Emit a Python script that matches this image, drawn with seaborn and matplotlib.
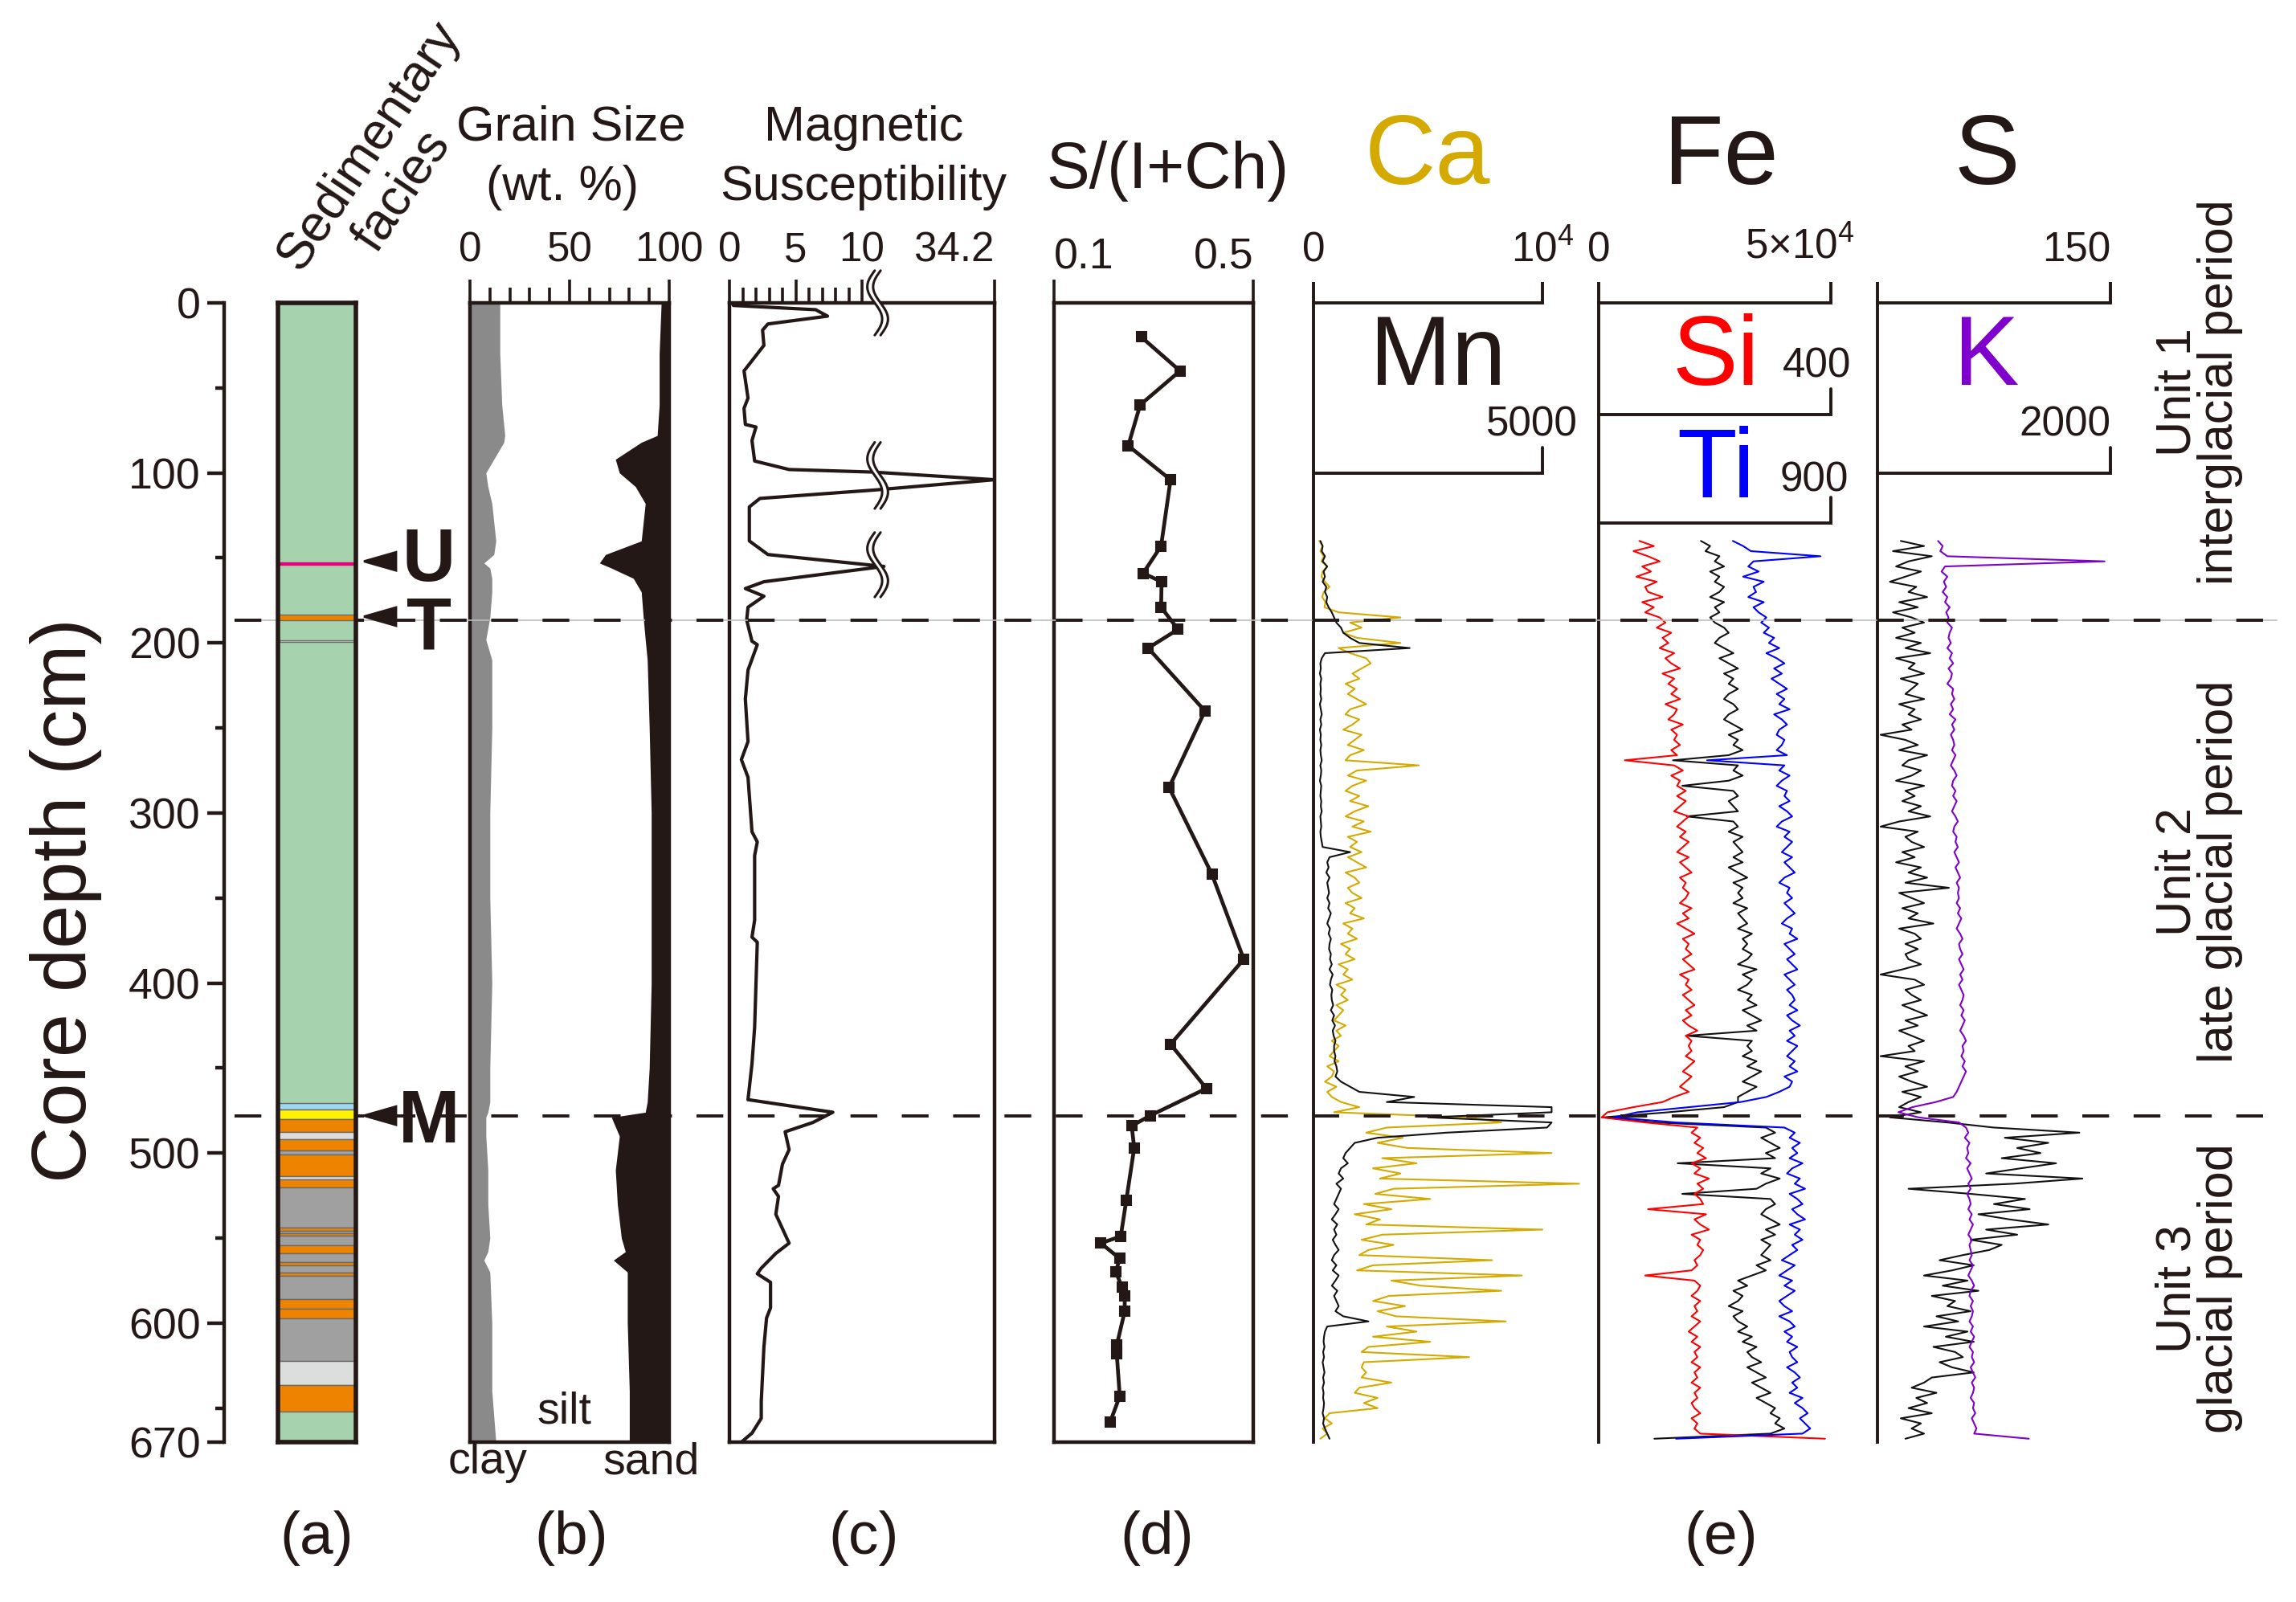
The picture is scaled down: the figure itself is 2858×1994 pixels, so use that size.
import numpy as np
import pandas as pd
import matplotlib
matplotlib.use("Agg")
import matplotlib.pyplot as plt
import matplotlib.transforms as mtransforms
from matplotlib.lines import Line2D
from matplotlib.ticker import FixedLocator
from matplotlib import font_manager
import seaborn as sns

# ============================ DATA ============================
DEPTH_MAX = 670
depth_major = [0, 100, 200, 300, 400, 500, 600, 670]
depth_minor = [50, 150, 250, 350, 450, 550, 650]

# (a) sedimentary facies (cm)
facies_top = [152.6, 183.4, 198.6, 470.5, 474.4, 480.2, 487.8, 491.8, 498.4, 501.0, 513.4, 515.4,
              520.0, 543.8, 545.6, 547.0, 548.8, 554.2, 558.8, 564.2, 566.2, 570.2, 572.2, 586.0,
              591.8, 597.4, 622.2, 636.4, 652.0]
facies_bot = [153.8, 186.6, 199.6, 474.4, 480.2, 487.8, 491.8, 498.4, 501.0, 513.4, 515.4, 520.0,
              543.8, 545.6, 547.0, 548.8, 554.2, 558.8, 564.2, 566.2, 570.2, 572.2, 586.0, 591.8,
              597.4, 622.2, 636.4, 652.0, 670.0]
facies_kind = ["pink", "orange", "lgrey", "lblue", "yellow", "orange", "lgrey", "orange", "grey",
               "orange", "lgrey", "orange", "grey", "orange", "grey", "orange", "grey", "orange",
               "grey", "orange", "grey", "orange", "grey", "orange", "orange", "grey", "lgrey",
               "orange", "green"]
facies_colors = {"green": "#A6D3AE", "orange": "#EE8300", "grey": "#A0A0A0", "lgrey": "#DCDDDD",
                 "yellow": "#FFF100", "lblue": "#9FD6F2", "pink": "#E5007F"}

# (b) grain size (wt. %)
grain_depth = [0, 30, 60, 78, 82, 92, 100, 108, 118, 140, 148, 153, 156, 162, 170, 185, 198, 210,
               250, 300, 350, 400, 450, 470, 476, 479, 490, 510, 530, 550, 558, 563, 570, 600, 640, 670]
clay_pct = [15, 15, 16, 17.5, 17, 12, 8, 9, 11, 13, 12, 7, 10, 11, 11, 10, 8, 11,
            11, 10, 10, 11, 10, 10, 9, 8, 8, 9, 9, 10, 9, 7, 10, 11, 11, 13]
sand_pct = [4, 5, 5, 6, 14, 27, 25, 17, 12, 14, 32, 35, 29, 18, 14, 13, 12, 11,
            10, 9, 9, 9, 10, 11, 12, 29, 25, 27, 26, 24, 22, 28, 21, 21, 20, 20]

# (c) magnetic susceptibility
ms_depth = [0, 1.5, 4, 7.8, 12.4, 16, 25, 40, 56, 62, 71.5, 73, 81, 93, 98, 99.5, 104, 110, 115,
            120, 140, 148, 155, 164, 168, 172.5, 179, 186.5, 199, 201, 216, 233, 258, 268.6, 279,
            311, 317, 325, 363, 373, 376, 426, 447.5, 468.6, 476, 482, 487.5, 498, 506.5, 519, 521,
            525.5, 536, 553, 559, 567.7, 571, 576, 591, 597, 614, 646, 656, 664.7, 670]
ms_value = [0.2, 0.3, 6.5, 7.4, 2.9, 2.5, 2.6, 1.1, 1.4, 1.1, 1.2, 2.0, 1.7, 1.9, 4.5, 12.0, 34.2,
            12.5, 2.3, 1.5, 1.5, 2.9, 14.0, 2.6, 1.2, 2.6, 1.4, 1.3, 1.7, 2.1, 1.4, 1.2, 1.4, 0.9,
            1.4, 1.7, 2.1, 1.9, 1.9, 1.7, 2.1, 1.9, 1.7, 1.4, 7.8, 6.3, 4.2, 4.5, 4.0, 3.7, 3.3,
            3.7, 3.5, 4.5, 3.5, 2.4, 2.1, 3.1, 3.1, 2.8, 2.6, 2.4, 2.4, 1.7, 0.9]
MS_BREAK, MS_MAX = 10.0, 34.2

# (d) S/(I+Ch)
sic_depth = [20, 40, 60, 84, 104, 143, 159, 164, 179, 192, 203, 240, 285, 336, 386, 436, 462,
             478, 484, 497, 528, 549, 553, 562, 570, 579, 584, 593, 613, 618, 643, 658]
sic_value = [0.275, 0.353, 0.273, 0.249, 0.334, 0.315, 0.279, 0.316, 0.315, 0.349, 0.289, 0.403,
             0.331, 0.417, 0.481, 0.334, 0.406, 0.293, 0.256, 0.261, 0.245, 0.234, 0.194, 0.232,
             0.224, 0.237, 0.242, 0.242, 0.226, 0.226, 0.232, 0.213]

# (e) XRF core scanning, 3-cm sampling from 140 to 668 cm
XRF_TOP, XRF_BOT = 140, 668
ca = [250, 400, 300, 450, 350, 600, 400, 350, 500, 700,
      450, 380, 520, 480, 1100, 3800, 1600, 2100, 1300, 1900,
      3800, 1100, 1600, 2300, 2500, 2100, 1700, 2000, 1400, 1800,
      1500, 1900, 2300, 1600, 1400, 2000, 1700, 1300, 2100, 1800,
      1500, 2200, 1600, 1400, 4600, 1900, 1500, 2300, 1700, 1400,
      2000, 1600, 2400, 1800, 1400, 2200, 1700, 2500, 1500, 1900,
      1600, 2100, 1500, 1900, 2300, 1400, 1800, 2000, 1500, 1700,
      2100, 1400, 1800, 1600, 2200, 1300, 1700, 1500, 1900, 1200,
      1600, 1400, 1800, 1100, 1500, 1300, 1700, 1000, 1400, 1200,
      1500, 1000, 1300, 1100, 900, 1400, 1000, 1200, 800, 1100,
      900, 700, 1100, 600, 900, 800, 500, 1000, 600, 800,
      1200, 2000, 900, 6800, 8200, 3200, 2300, 3900, 2800, 4100,
      10400, 3000, 4500, 2600, 3800, 2900, 11600, 3500, 2700, 5100,
      2200, 3400, 1800, 2900, 2300, 10000, 3000, 2100, 3500, 2400,
      2000, 7800, 2600, 1900, 9100, 3400, 4700, 8200, 3300, 2600,
      4000, 2800, 3600, 8400, 3200, 4500, 2600, 5100, 2400, 2100,
      6800, 2200, 2100, 2300, 2100, 3400, 2000, 1800, 2800, 2200,
      2800, 700, 500, 800, 400, 600, 300]
mn = [150, 200, 180, 250, 200, 300, 220, 250, 200, 280,
      250, 300, 280, 330, 400, 450, 500, 600, 650, 800,
      1000, 2100, 250, 180, 150, 160, 140, 170, 150, 160,
      150, 170, 140, 160, 180, 150, 170, 140, 160, 150,
      170, 150, 160, 180, 150, 170, 160, 140, 170, 160,
      150, 170, 160, 180, 150, 160, 170, 150, 160, 180,
      200, 800, 350, 300, 330, 280, 350, 300, 320, 340,
      300, 350, 320, 380, 340, 300, 360, 330, 380, 350,
      340, 380, 360, 400, 350, 420, 380, 360, 410, 390,
      400, 430, 380, 450, 410, 470, 420, 440, 480, 450,
      450, 480, 460, 500, 520, 480, 600, 800, 1000, 2200,
      1600, 5200, 5200, 2500, 5200, 5100, 2900, 1400, 900, 800,
      700, 650, 750, 600, 550, 650, 500, 600, 550, 500,
      450, 550, 480, 400, 520, 450, 500, 420, 480, 550,
      450, 400, 500, 420, 550, 480, 400, 520, 450, 500,
      550, 480, 650, 1200, 300, 250, 230, 220, 240, 210,
      230, 200, 220, 240, 210, 230, 200, 220, 210, 230,
      220, 200, 230, 210, 250, 300, 350]
fe_k = [22, 24, 23, 26, 25, 27, 24, 26, 25, 27,
        26, 24, 27, 25, 26, 24, 25, 27, 28, 26,
        25, 27, 29, 26, 28, 30, 27, 29, 28, 30,
        28, 27, 29, 30, 28, 27, 29, 31, 28, 30,
        29, 31, 28, 16, 30, 29, 31, 28, 18, 29,
        30, 28, 29, 30, 19, 29, 30, 28, 31, 29,
        30, 31, 29, 31, 28, 30, 32, 29, 31, 30,
        31, 29, 32, 30, 31, 32, 30, 33, 31, 32,
        31, 33, 32, 30, 34, 31, 33, 32, 30, 33,
        32, 34, 31, 33, 35, 32, 34, 19, 33, 32,
        33, 31, 34, 32, 35, 33, 31, 34, 32, 30,
        30, 27, 15, 1, 12, 36, 38, 35, 37, 39,
        36, 38, 17, 37, 35, 39, 36, 34, 18, 37,
        38, 36, 35, 37, 39, 36, 38, 35, 37, 36,
        35, 37, 34, 36, 33, 30, 32, 29, 31, 30,
        28, 31, 29, 30, 32, 30, 33, 31, 34, 32,
        33, 35, 32, 34, 36, 33, 35, 37, 34, 36,
        38, 37, 39, 38, 40, 37, 12]
si = [70, 95, 60, 85, 105, 75, 90, 65, 100, 80,
      85, 110, 75, 95, 80, 105, 115, 100, 125, 110,
      120, 105, 130, 115, 125, 140, 110, 130, 120, 135,
      125, 140, 115, 135, 130, 120, 145, 125, 135, 130,
      140, 125, 135, 45, 130, 145, 125, 140, 135, 150,
      135, 150, 140, 130, 155, 145, 135, 150, 140, 155,
      145, 135, 155, 140, 150, 160, 140, 150, 145, 155,
      150, 140, 160, 145, 155, 135, 150, 165, 145, 155,
      150, 160, 145, 155, 165, 140, 155, 150, 160, 145,
      155, 165, 150, 160, 145, 155, 170, 150, 160, 155,
      160, 150, 165, 155, 145, 160, 150, 140, 155, 130,
      110, 60, 15, 5, 80, 170, 160, 175, 165, 180,
      170, 185, 160, 175, 165, 190, 170, 180, 165, 175,
      180, 85, 185, 165, 175, 190, 160, 175, 170, 180,
      175, 165, 170, 160, 80, 165, 175, 170, 160, 175,
      165, 170, 160, 175, 165, 155, 170, 160, 175, 165,
      170, 160, 175, 165, 170, 160, 175, 165, 170, 160,
      165, 175, 160, 170, 165, 175, 390]
ti = [520, 560, 590, 860, 600, 580, 620, 560, 640, 600,
      610, 580, 640, 600, 620, 650, 630, 660, 640, 680,
      660, 700, 650, 690, 720, 680, 710, 670, 700, 730,
      690, 720, 700, 740, 680, 710, 730, 700, 690, 720,
      710, 690, 730, 420, 720, 700, 740, 710, 690, 730,
      720, 740, 700, 730, 750, 710, 690, 740, 720, 750,
      730, 710, 750, 720, 740, 760, 720, 700, 740, 730,
      750, 720, 740, 760, 730, 710, 750, 740, 770, 720,
      740, 760, 730, 750, 770, 720, 740, 760, 730, 750,
      760, 740, 770, 730, 750, 780, 740, 760, 730, 770,
      750, 730, 760, 740, 770, 720, 750, 740, 700, 650,
      550, 350, 150, 60, 300, 720, 760, 740, 780, 750,
      770, 740, 790, 750, 730, 780, 760, 800, 740, 770,
      790, 750, 770, 800, 740, 780, 760, 790, 750, 770,
      740, 710, 760, 730, 700, 750, 720, 760, 730, 700,
      720, 750, 700, 740, 760, 720, 750, 730, 770, 740,
      750, 770, 730, 760, 780, 750, 770, 740, 790, 760,
      790, 810, 780, 800, 820, 790, 300]
s_el = [15, 30, 10, 35, 20, 12, 28, 18, 8, 25,
        20, 32, 14, 26, 10, 22, 30, 16, 24, 12,
        28, 18, 34, 12, 24, 20, 30, 15, 26, 22,
        18, 30, 14, 24, 20, 28, 16, 22, 2, 18,
        26, 14, 32, 20, 16, 28, 22, 12, 30, 18,
        24, 16, 28, 20, 34, 14, 2, 26, 18, 22,
        30, 16, 24, 12, 28, 20, 32, 18, 46, 14,
        22, 30, 16, 26, 20, 36, 14, 24, 28, 18,
        26, 18, 20, 28, 16, 2, 24, 30, 18, 22,
        28, 16, 24, 32, 18, 26, 14, 22, 30, 20,
        24, 2, 30, 18, 26, 14, 22, 32, 16, 28,
        20, 14, 28, 8, 45, 75, 130, 82, 110, 90,
        105, 80, 115, 92, 70, 132, 88, 20, 60, 95,
        75, 98, 65, 85, 110, 70, 90, 60, 80, 72,
        55, 40, 62, 48, 30, 58, 42, 65, 35, 50,
        45, 60, 38, 52, 30, 58, 44, 62, 36, 50,
        55, 40, 48, 62, 35, 30, 22, 38, 25, 32,
        20, 35, 15, 28, 22, 30, 18]
k_el = [520, 560, 540, 600, 1950, 580, 550, 600, 570, 590,
        560, 600, 580, 620, 590, 610, 600, 640, 620, 610,
        630, 600, 640, 620, 650, 610, 640, 630, 600, 650,
        640, 660, 630, 650, 620, 670, 640, 660, 630, 650,
        660, 640, 670, 650, 630, 660, 680, 650, 640, 670,
        650, 680, 660, 640, 670, 690, 660, 650, 680, 670,
        690, 660, 680, 700, 670, 690, 710, 680, 700, 690,
        700, 680, 710, 690, 720, 700, 680, 710, 730, 700,
        710, 730, 700, 720, 740, 710, 730, 700, 720, 740,
        730, 710, 740, 720, 750, 730, 710, 740, 760, 730,
        740, 720, 750, 730, 760, 740, 720, 700, 680, 650,
        500, 300, 180, 350, 700, 760, 780, 750, 790, 770,
        780, 760, 800, 770, 790, 810, 780, 800, 770, 790,
        800, 780, 810, 790, 820, 800, 780, 810, 790, 800,
        810, 790, 820, 800, 780, 810, 830, 800, 790, 820,
        800, 820, 810, 790, 820, 800, 830, 810, 790, 820,
        810, 830, 800, 820, 840, 810, 830, 820, 800, 830,
        820, 840, 810, 830, 850, 830, 1300]

CA_MAX, MN_MAX = 1e4, 5000
FE_MAX, SI_MAX, TI_MAX = 50, 400, 900   # Fe in 10^3 counts
S_MAX, K_MAX = 150, 2000
MN_AXIS_DEPTH, SI_AXIS_DEPTH, TI_AXIS_DEPTH, K_AXIS_DEPTH = 100, 65.5, 129.5, 100

unit_bounds = [186.5, 478]
unit_names = ["Unit 1", "Unit 2", "Unit 3"]
unit_periods = ["interglacial period", "late glacial period", "glacial period"]
tephra_names = ["U", "T", "M"]
tephra_depth = [152, 184.5, 478]
tephra_label_shift = [-4.5, 3.5, 0]   # letter offset from its arrow (cm)

# ============================ STYLE ============================
sns.set_theme(style="white")
DARK = "#231815"
names = {f.name for f in font_manager.fontManager.ttflist}
NARROW = "Liberation Sans Narrow" if "Liberation Sans Narrow" in names else "Liberation Sans"
NSCALE = 1.0 if NARROW == "Liberation Sans Narrow" else 0.92
plt.rcParams.update({
    "font.family": ["Liberation Sans", "DejaVu Sans"],
    "text.color": DARK, "axes.edgecolor": DARK, "xtick.color": DARK, "ytick.color": DARK,
    "axes.labelcolor": DARK, "axes.linewidth": 1.5, "lines.scale_dashes": False,
    "mathtext.default": "regular",
})

W, H, DPI = 2858, 1994, 200
fig = plt.figure(figsize=(W / DPI, H / DPI), dpi=DPI, facecolor="white")
Y0, Y1 = 377, 1795


def add_panel(x0, x1):
    ax = fig.add_axes([x0 / W, 1 - Y1 / H, (x1 - x0) / W, (Y1 - Y0) / H])
    ax.set_ylim(DEPTH_MAX, 0)
    ax.set_facecolor("none")
    return ax


def ftext(x, y, s, size=None, **kw):
    kw.setdefault("ha", "center")
    kw.setdefault("va", "center")
    if size is not None:
        kw["fontsize"] = size
    return fig.text(x / W, 1 - y / H, s, **kw)


def narrow(size):
    return dict(family=[NARROW, "DejaVu Sans"], fontsize=size * NSCALE)


def trace(ax, x, y, color, lw, **kw):
    df = pd.DataFrame({"v": x, "d": y})
    sns.lineplot(data=df, x="v", y="d", ax=ax, color=color, lw=lw, sort=False,
                 estimator=None, orient="y", **kw)
    ax.set_xlabel("")
    ax.set_ylabel("")
    return ax.lines[-1]


def top_ticks(ax, major, labels, minor=None, lw=1.3, size=20):
    ax.xaxis.set_ticks_position("top")
    ax.set_xticks(major)
    ax.set_xticklabels(labels, **narrow(size))
    if minor is not None:
        ax.xaxis.set_minor_locator(FixedLocator(minor))
    ax.tick_params(axis="x", which="major", direction="out", length=10.5, width=lw, pad=4,
                   top=True, bottom=False, labeltop=True, labelbottom=False)
    ax.tick_params(axis="x", which="minor", direction="out", length=7, width=lw,
                   top=True, bottom=False)
    ax.set_yticks([])


# ---------------- depth axis ----------------
ax_y = add_panel(279, 281)
for k in ["top", "right", "bottom"]:
    ax_y.spines[k].set_visible(False)
ax_y.spines["left"].set_linewidth(1.6)
ax_y.set_xticks([])
ax_y.set_yticks(depth_major)
ax_y.set_yticklabels([str(v) for v in depth_major], **narrow(21))
ax_y.yaxis.set_minor_locator(FixedLocator(depth_minor))
ax_y.tick_params(axis="y", which="major", length=7.5, width=1.6, pad=3, left=True)
ax_y.tick_params(axis="y", which="minor", length=4, width=1.6, left=True)
ftext(82, 1121, "Core depth (cm)", 35, rotation=90)

# ---------------- (a) facies ----------------
ax_a = add_panel(346, 443)
ax_a.barh([DEPTH_MAX / 2], [1], height=[DEPTH_MAX], left=0, color=facies_colors["green"], lw=0)
ftop = np.array(facies_top)
fbot = np.array(facies_bot)
edge_cols = [facies_colors[k] if k == "pink" else "#6a6a6a" for k in facies_kind]
ax_a.barh((ftop + fbot) / 2, 1, height=fbot - ftop, left=0,
          color=[facies_colors[k] for k in facies_kind], edgecolor=edge_cols, linewidth=0.5)
ax_a.set_xlim(0, 1)
ax_a.set_xticks([])
ax_a.set_yticks([])
for sp in ax_a.spines.values():
    sp.set_linewidth(2.0)
    sp.set_visible(True)
ax_a.set_zorder(3)
ftext(459, 182, "Sedimentary", 23, rotation=56)
ftext(500, 238, "facies", 23, rotation=56)

# tephra markers
trans_a = mtransforms.blended_transform_factory(fig.transFigure, ax_a.transData)
for name, d, sh in zip(tephra_names, tephra_depth, tephra_label_shift):
    ax_a.fill([453 / W, 493 / W, 493 / W], [d, d - 5.4, d + 5.4], transform=trans_a,
              color=DARK, clip_on=False, zorder=6)
    ax_a.text(534 / W, d + sh, name, transform=trans_a, fontsize=33, fontweight="bold",
              ha="center", va="center_baseline", clip_on=False, zorder=6)

# ---------------- (b) grain size ----------------
ax_b = add_panel(585, 833)
gd = np.array(grain_depth)
ax_b.fill_betweenx(gd, 0, np.array(clay_pct), color="#8a8a8a", lw=0)
ax_b.fill_betweenx(gd, 100 - np.array(sand_pct), 100, color=DARK, lw=0)
ax_b.set_xlim(0, 100)
top_ticks(ax_b, [0, 50, 100], ["0", "50", "100"], minor=[10, 20, 30, 40, 60, 70, 80, 90])
for sp in ax_b.spines.values():
    sp.set_linewidth(1.6)
ftext(711, 159, "Grain Size", 22)
ftext(700, 233, "(wt. %)", 22)
ftext(702, 1757, "silt", 20)
ftext(607, 1820, "clay", 20)
ftext(811, 1820, "sand", 20)


# ---------------- (c) magnetic susceptibility ----------------
def ms_fwd(v):
    v = np.asarray(v, dtype=float)
    return np.where(v <= MS_BREAK, v, MS_BREAK + (v - MS_BREAK) * MS_BREAK / (MS_MAX - MS_BREAK))


def ms_inv(u):
    u = np.asarray(u, dtype=float)
    return np.where(u <= MS_BREAK, u, MS_BREAK + (u - MS_BREAK) * (MS_MAX - MS_BREAK) / MS_BREAK)


ax_c = add_panel(908, 1238)
ax_c.set_xscale("function", functions=(ms_fwd, ms_inv))
ax_c.set_xlim(0, MS_MAX)
trace(ax_c, ms_value, ms_depth, DARK, 1.5)
top_ticks(ax_c, [0, 5, 10, MS_MAX], ["0", "5", "10", "34.2"], minor=[1, 2, 3, 4, 6, 7, 8, 9])
labs = ax_c.get_xticklabels()
labs[-1].set_ha("right")
for sp in ax_c.spines.values():
    sp.set_linewidth(1.6)
ftext(1075, 159, "Magnetic", 22)
ftext(1075, 233, "Susceptibility", 22)

# axis-break symbols (decoration)
yax = ax_c.get_yaxis_transform()
for d0, d1 in [(-19, 19), (82, 121), (135, 173)]:
    t = np.linspace(0, 1, 60)
    dd = d0 + (d1 - d0) * t
    xa = 0.548 - 0.028 * np.sin(2 * np.pi * t)
    xb = xa + 0.022
    ax_c.fill_betweenx(dd, xa, xb, color="white", transform=yax, zorder=4, clip_on=False, lw=0)
    ax_c.plot(xa, dd, color=DARK, lw=1.1, transform=yax, zorder=5, clip_on=False)
    ax_c.plot(xb, dd, color=DARK, lw=1.1, transform=yax, zorder=5, clip_on=False)

# ---------------- (d) S/(I+Ch) ----------------
ax_d = add_panel(1312, 1560)
ax_d.set_xlim(0.1, 0.5)
trace(ax_d, sic_value, sic_depth, DARK, 1.7, marker="s", markersize=4.2,
      markeredgecolor=DARK, markerfacecolor=DARK)
top_ticks(ax_d, [0.1, 0.5], ["0.1", "0.5"], size=21)
labs = ax_d.get_xticklabels()
labs[0].set_ha("left")
labs[1].set_ha("right")
ax_d.tick_params(axis="x", pad=1)
for sp in ax_d.spines.values():
    sp.set_linewidth(1.6)
ftext(1453, 213, "S/(I+Ch)", 29)

# ---------------- (e) XRF ----------------
def xrf_depth(arr):
    return np.linspace(XRF_TOP, XRF_BOT, len(arr))


def twin(ax, vmax):
    t = ax.twiny()
    t.set_xlim(0, vmax)
    t.set_xticks([])
    for sp in t.spines.values():
        sp.set_visible(False)
    return t


def xrf_axes(x0, x1, vmax, labels, label_ha, twin_max):
    ax = add_panel(x0, x1)
    ax.set_xlim(0, vmax)
    twins = [twin(ax, m) for m in twin_max]
    for k in ["right", "bottom"]:
        ax.spines[k].set_visible(False)
    ax.spines["left"].set_linewidth(1.4)
    ax.spines["top"].set_linewidth(1.4)
    ax.xaxis.set_ticks_position("top")
    ax.xaxis.set_label_position("top")
    ax.set_xticks([0, vmax])
    ax.set_xticklabels(labels, **narrow(20))
    for lab, ha in zip(ax.get_xticklabels(), label_ha):
        lab.set_ha(ha)
    ax.tick_params(axis="x", direction="out", length=9.5, width=1.4, pad=5, top=True,
                   bottom=False, labeltop=True, labelbottom=False)
    ax.set_yticks([])
    return ax, twins


def sub_axis(ax, vmax, depth):
    ax.plot([0, vmax, vmax], [depth, depth, depth - 15], color=DARK, lw=1.4, clip_on=False,
            solid_joinstyle="miter")


# Ca / Mn
ax_ca, (ax_mn,) = xrf_axes(1635, 1920, CA_MAX, ["0", "$10^{4}$"], ["center", "center"], [MN_MAX])
ln = trace(ax_ca, ca, xrf_depth(ca), "#D4AA00", 0.75)
ln.set_clip_on(False)
ln = trace(ax_mn, mn, xrf_depth(mn), "#111111", 0.75)
ln.set_clip_on(False)
sub_axis(ax_mn, MN_MAX, MN_AXIS_DEPTH)
ftext(1777, 197, "Ca", 44, color="#D4AA00")
ftext(1790, 447, "Mn", 44)
ftext(1907, 529, "5000", **narrow(20))

# Fe / Si / Ti
ax_fe, (ax_si, ax_ti) = xrf_axes(1990, 2279, FE_MAX, ["0", ""], ["center", "center"],
                                 [SI_MAX, TI_MAX])
ftext(2240, 307, r"$5{\times}10^{4}$", **narrow(20))
trace(ax_fe, fe_k, xrf_depth(fe_k), "#111111", 0.75)
trace(ax_si, si, xrf_depth(si), "#FF0000", 0.75)
trace(ax_ti, ti, xrf_depth(ti), "#0000FF", 0.75)
sub_axis(ax_si, SI_MAX, SI_AXIS_DEPTH)
sub_axis(ax_ti, TI_MAX, TI_AXIS_DEPTH)
ftext(2142, 197, "Fe", 44)
ftext(2136, 447, "Si", 44, color="#FF0000")
ftext(2262, 456, "400", **narrow(20))
ftext(2136, 587, "Ti", 44, color="#0000FF")
ftext(2258, 598, "900", **narrow(20))

# S / K
ax_s, (ax_k,) = xrf_axes(2337, 2627, S_MAX, ["", "150"], ["center", "right"], [K_MAX])
trace(ax_s, s_el, xrf_depth(s_el), "#111111", 0.75)
trace(ax_k, k_el, xrf_depth(k_el), "#7F00CC", 0.75)
sub_axis(ax_k, K_MAX, K_AXIS_DEPTH)
ftext(2473, 197, "S", 44)
ftext(2473, 447, "K", 44, color="#7F00CC")
ftext(2570, 529, "2000", **narrow(20))

# ---------------- unit boundaries & labels ----------------
trans_d = mtransforms.blended_transform_factory(fig.transFigure, ax_a.transData)
for i, d in enumerate(unit_bounds):
    if i == 0:
        fig.add_artist(Line2D([292 / W, 2834 / W], [d, d], transform=trans_d, color="#bdbdbd",
                              lw=0.6, zorder=2))
    fig.add_artist(Line2D([292 / W, 2834 / W], [d, d], transform=trans_d, color=DARK, lw=1.4,
                          dashes=(12, 11), zorder=2))

unit_y = [488, 1085, 1604]
for name, per, yy in zip(unit_names, unit_periods, unit_y):
    ftext(2711, yy, name, 22, rotation=90)
    ftext(2764, yy, per, 22, rotation=90)

# panel letters
for lab, xx in zip(["(a)", "(b)", "(c)", "(d)", "(e)"], [394, 711, 1075, 1440, 2142]):
    ftext(xx, 1914, lab, 27)

fig.savefig("out.png", dpi=DPI, facecolor="white")
